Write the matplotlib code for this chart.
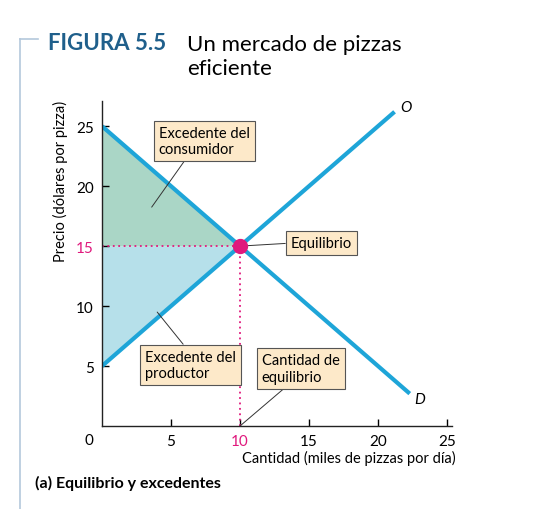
import matplotlib.pyplot as plt
from matplotlib.lines import Line2D

# market data (thousands of pizzas per day, dollars per pizza)
q_demand = [0, 22.3]
p_demand = [25, 2.7]
q_supply = [0, 21.2]
p_supply = [5, 26.2]
q_eq = 10
p_eq = 15
x_ticks = [5, 10, 15, 20, 25]
y_ticks = [5, 10, 15, 20, 25]

BLUE = "#1ea5d8"
MAGENTA = "#e0197d"
BOX = dict(boxstyle="square,pad=0.35", fc="#fde9c9", ec="#555555", lw=0.8)

plt.rcParams["font.family"] = ["Lato", "DejaVu Sans"]

fig = plt.figure(figsize=(5.4, 5.1), dpi=100)
ax = fig.add_axes([102 / 540, 83 / 510, 350 / 540, 325 / 510])
ax.set_xlim(0, 350 / 13.8)
ax.set_ylim(0, 27.1)

# surplus areas
ax.fill_between([0, q_eq], [p_demand[0], p_eq], [p_eq, p_eq], color="#aad6c6", lw=0)
ax.fill_between([0, q_eq], [p_supply[0], p_eq], [p_eq, p_eq], color="#b6e0ea", lw=0)

# guide lines to equilibrium
ax.plot([0, q_eq], [p_eq, p_eq], ls=(0, (1, 2)), color=MAGENTA, lw=1.3)
ax.plot([q_eq, q_eq], [0, p_eq], ls=(0, (1, 2)), color=MAGENTA, lw=1.3)

ax.plot(q_demand, p_demand, color=BLUE, lw=3, solid_capstyle="butt")
ax.plot(q_supply, p_supply, color=BLUE, lw=3, solid_capstyle="butt")
ax.plot([q_eq], [p_eq], "o", color=MAGENTA, ms=10, zorder=5)

ax.text(q_supply[1] + 0.4, p_supply[1] + 0.1, "O", fontsize=11, style="italic")
ax.text(q_demand[1] + 0.3, p_demand[1] - 0.8, "D", fontsize=11, style="italic")

arrow = dict(arrowstyle="-", color="#333333", lw=0.7, shrinkA=0, shrinkB=0)
ax.annotate("Excedente del\nconsumidor", xy=(3.6, 18.25), xytext=(7.4, 23.75),
            fontsize=10.5, ha="center", va="center", multialignment="left",
            bbox=BOX, arrowprops=dict(arrow, relpos=(0.32, 0)))
ax.annotate("Equilibrio", xy=(q_eq, p_eq), xytext=(15.9, 15.25),
            fontsize=10.5, ha="center", va="center",
            bbox=BOX, arrowprops=dict(arrow, relpos=(0, 0.5)))
ax.annotate("Excedente del\nproductor", xy=(4.0, 9.5), xytext=(6.4, 5.1),
            fontsize=10.5, ha="center", va="center", multialignment="left",
            bbox=BOX, arrowprops=dict(arrow, relpos=(0.47, 1)))
ax.annotate("Cantidad de\nequilibrio", xy=(q_eq, 0), xytext=(14.4, 4.8),
            fontsize=10.5, ha="center", va="center", multialignment="left",
            bbox=BOX, arrowprops=dict(arrow, relpos=(0.36, 0)))

for s in ["top", "right"]:
    ax.spines[s].set_visible(False)
for s in ["left", "bottom"]:
    ax.spines[s].set_linewidth(1)
    ax.spines[s].set_color("#222222")

ax.set_xticks(x_ticks)
ax.set_yticks(y_ticks)
ax.tick_params(direction="in", length=5, width=1, labelsize=11, pad=6)
for lab in ax.get_xticklabels():
    if lab.get_text() == "10":
        lab.set_color(MAGENTA)
for lab in ax.get_yticklabels():
    if lab.get_text() == "15":
        lab.set_color(MAGENTA)
ax.text(-0.6, -0.6, "0", fontsize=11, ha="right", va="top")

fig.text(456 / 540, 1 - 458 / 510, "Cantidad (miles de pizzas por día)",
         fontsize=10.5, ha="right", va="center")
fig.text(60 / 540, 1 - 181 / 510, "Precio (dólares por pizza)",
         fontsize=10.5, rotation=90, ha="center", va="center")

# header and frame
fig.text(48 / 540, 1 - 43 / 510, "FIGURA 5.5", fontsize=16, fontweight="bold",
         color="#1f5f8b", va="center")
fig.text(187 / 540, 1 - 57 / 510, "Un mercado de pizzas\neficiente", fontsize=16,
         va="center", linespacing=1.2)
fig.text(35 / 540, 1 - 483 / 510, "(a) Equilibrio y excedentes", fontsize=11.5,
         fontweight="bold", va="center")
frame = "#b4c8dc"
fig.add_artist(Line2D([20 / 540, 20 / 540], [0, 1 - 40 / 510], color=frame, lw=1.2))
fig.add_artist(Line2D([20 / 540, 38 / 540], [1 - 40 / 510, 1 - 40 / 510], color=frame, lw=1.2))

fig.savefig("out.png", dpi=100)
